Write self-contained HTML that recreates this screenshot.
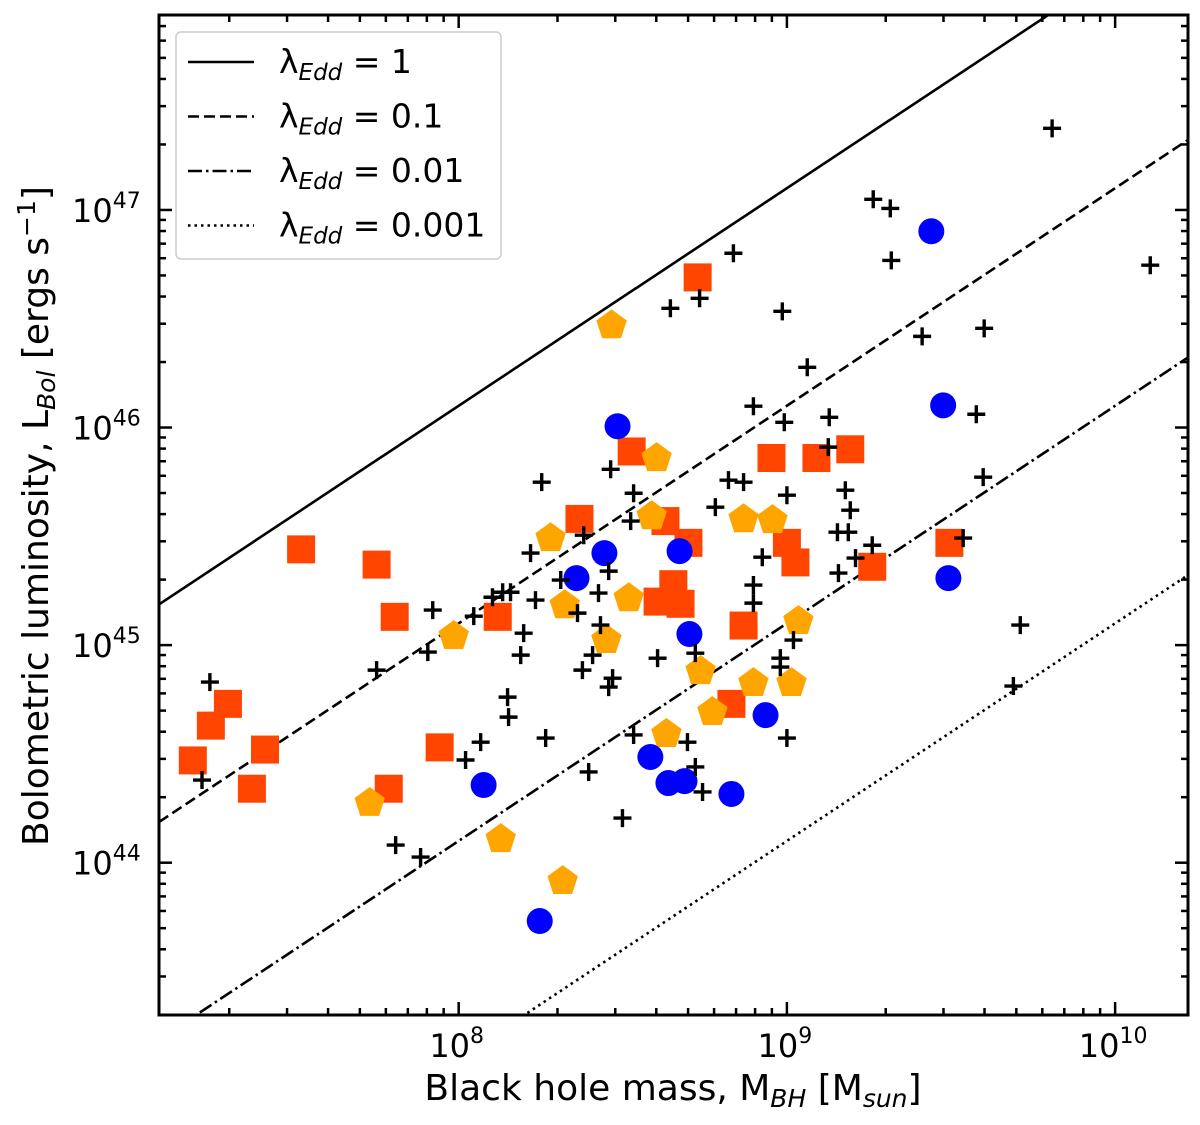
<!DOCTYPE html>
<html><head><meta charset="utf-8"><style>
html,body{margin:0;padding:0;background:#fff;overflow:hidden;width:1200px;height:1125px;}
svg{display:block;font-family:"DejaVu Sans","Liberation Sans",sans-serif;}
</style></head><body>
<svg id="chart" width="1200" height="1125" viewBox="0 0 1200 1125" xmlns="http://www.w3.org/2000/svg">
<g id="plot"></g>
</svg>
<script>
const xTickValues = [8, 9, 10];
const yTickValues = [44, 45, 46, 47];
const eddRatios = [1, 0.1, 0.01, 0.001];
const eddLabels = ["1", "0.1", "0.01", "0.001"];
const eddDashes = ["", "11,5", "14,4,2.5,4", "2.5,4"];
// log10 of M_BH and L_Bol
const squaresM = [7.19,7.245,7.297,7.41,7.37,7.52,7.75,7.805,7.787,7.942,8.119,8.368,8.527,8.63,8.70,8.654,8.606,8.676,8.728,8.868,8.831,8.953,9.0,9.026,9.09,9.193,9.26,9.495];
const squaresL = [44.47,44.63,44.73,44.52,44.34,45.44,45.37,45.13,44.34,44.53,45.13,45.58,45.89,45.57,45.47,45.28,45.20,45.19,46.69,45.09,44.73,45.86,45.47,45.38,45.86,45.90,45.36,45.47];
const circlesM = [9.44,9.476,9.492,8.484,8.444,8.673,8.359,8.703,8.935,8.076,8.247,8.584,8.639,8.688,8.831];
const circlesL = [46.902,46.102,45.308,46.006,45.423,45.432,45.308,45.051,44.678,44.357,43.732,44.486,44.366,44.375,44.316];
const pentM = [8.466,8.603,8.588,8.28,8.323,8.518,8.45,8.737,8.868,8.956,9.035,8.898,9.014,8.773,8.633,7.985,7.729,8.128,8.317];
const pentL = [46.474,45.864,45.597,45.496,45.188,45.22,45.028,44.885,45.583,45.579,45.115,44.83,44.83,44.697,44.596,45.046,44.279,44.113,43.92];
const crossM = [9.808,9.263,9.315,9.318,8.837,8.734,8.645,8.986,9.601,9.412,9.062,8.898,8.992,9.129,9.577,9.126,8.822,8.868,9.0,9.178,9.193,8.782,9.598,9.154,9.187,9.26,9.537,8.925,9.209,9.157,8.898,8.898,8.463,8.253,8.533,8.524,8.381,8.219,8.457,8.311,8.426,8.134,8.158,8.103,8.234,8.046,8.362,8.432,8.198,8.189,8.408,8.606,8.721,8.377,8.469,8.457,8.98,8.98,9.02,8.149,8.152,8.265,8.067,8.533,8.697,9.0,8.021,8.396,8.721,8.743,8.499,7.921,7.906,7.75,7.242,7.218,7.808,7.884,10.107,9.711,9.69];
const crossL = [47.375,47.049,47.007,46.768,46.801,46.594,46.548,46.534,46.456,46.419,46.277,46.098,46.024,46.047,46.061,45.91,45.758,45.749,45.689,45.712,45.62,45.634,45.772,45.519,45.519,45.459,45.492,45.404,45.40,45.331,45.276,45.193,45.808,45.749,45.698,45.57,45.505,45.423,45.34,45.299,45.239,45.243,45.243,45.22,45.207,45.133,45.147,45.092,45.055,44.954,44.954,44.94,44.963,44.885,44.848,44.807,44.94,44.899,45.023,44.761,44.669,44.573,44.554,44.587,44.554,44.573,44.472,44.417,44.44,44.325,44.205,45.161,44.968,44.885,44.83,44.38,44.081,44.026,46.746,45.092,44.812];

const NS="http://www.w3.org/2000/svg";
const L=159,R=1188,T=15,B=1015;
const xMin=7.087,xMax=10.222,yMin=43.30,yMax=47.896;
const X=v=>L+(v-xMin)/(xMax-xMin)*(R-L);
const Y=v=>B-(v-yMin)/(yMax-yMin)*(B-T);
const root=document.getElementById('plot');
function mk(tag,attrs,parent){const e=document.createElementNS(NS,tag);for(const k in attrs)e.setAttribute(k,attrs[k]);(parent||root).appendChild(e);return e;}

const defs=mk('defs',{});
const cp=mk('clipPath',{id:'clip'},defs);mk('rect',{x:L,y:T,width:R-L,height:B-T},cp);
const data=mk('g',{'clip-path':'url(#clip)'});



eddRatios.forEach((r,i)=>{
  const c=38.10+Math.log10(r);
  const ln=mk('line',{x1:X(xMin),y1:Y(c+xMin),x2:X(xMax),y2:Y(c+xMax),stroke:'#000','stroke-width':2.6,'stroke-dasharray':eddDashes[i]},data);
  
  
});
squaresM.forEach((m,i)=>{
  const s=mk('rect',{x:X(m)-14,y:Y(squaresL[i])-14,width:28,height:28,fill:'#ff4500'},data);
  
  
});
function pent(cx,cy,r){let p=[];for(let k=0;k<5;k++){const a=-Math.PI/2+k*2*Math.PI/5;p.push((cx+r*Math.cos(a)).toFixed(1)+','+(cy+r*Math.sin(a)).toFixed(1));}return p.join(' ');}
pentM.forEach((m,i)=>{
  const p=mk('polygon',{points:pent(X(m),Y(pentL[i])+1,16),fill:'#ffa500'},data);
  
  
});
circlesM.forEach((m,i)=>{
  const c=mk('circle',{cx:X(m),cy:Y(circlesL[i]),r:13,fill:'#0000ff'},data);
  
  
});
crossM.forEach((m,i)=>{
  const x=X(m),y=Y(crossL[i]);
  const c=mk('path',{d:`M${x-9},${y}H${x+9}M${x},${y-9}V${y+9}`,stroke:'#000','stroke-width':3.4,fill:'none'},data);
  
  
});

const fr=mk('rect',{x:L,y:T,width:R-L,height:B-T,fill:'none',stroke:'#000','stroke-width':3});



const tg=mk('g',{stroke:'#000','stroke-width':2.5});


for(let d=7;d<=10;d++){for(let k=1;k<10;k++){const v=d+Math.log10(k);if(v<xMin||v>xMax)continue;const len=k==1?13:7;const x=X(v);
  mk('line',{x1:x,y1:B,x2:x,y2:B-len},tg);mk('line',{x1:x,y1:T,x2:x,y2:T+len},tg);}}
for(let d=43;d<=47;d++){for(let k=1;k<10;k++){const v=d+Math.log10(k);if(v<yMin||v>yMax)continue;const len=k==1?13:7;const y=Y(v);
  mk('line',{x1:L,y1:y,x2:L+len,y2:y},tg);mk('line',{x1:R,y1:y,x2:R-len,y2:y},tg);}}
xTickValues.forEach(v=>{
  const t=mk('text',{x:X(v)-2,y:1057,'font-size':32,'text-anchor':'middle',fill:'#000'});
  
  
  t.innerHTML='10<tspan dy="-14" font-size="22">'+v+'</tspan>';
});
yTickValues.forEach(v=>{
  const t=mk('text',{x:72,y:Y(v)+12,'font-size':32,fill:'#000'});
  
  
  t.innerHTML='10<tspan dy="-14" font-size="22">'+v+'</tspan>';
});
const xt=mk('text',{x:673,y:1100,'font-size':36,'text-anchor':'middle',fill:'#000'});


xt.innerHTML='Black hole mass, M<tspan font-size="25" font-style="italic" dy="7">BH</tspan><tspan dy="-7"> [M</tspan><tspan font-size="25" font-style="italic" dy="7">sun</tspan><tspan dy="-7">]</tspan>';
const yt=mk('text',{x:0,y:0,'font-size':36,'text-anchor':'middle',fill:'#000',transform:'translate(48,516) rotate(-90)'});


yt.innerHTML='Bolometric luminosity, L<tspan font-size="25" font-style="italic" dy="7">Bol</tspan><tspan dy="-7"> [ergs s</tspan><tspan font-size="25" dy="-13">−1</tspan><tspan dy="13">]</tspan>';

const lg=mk('g',{});


mk('rect',{x:176,y:32,width:325,height:227,rx:5,fill:'#fff',stroke:'#ccc','stroke-width':1.5},lg);
eddRatios.forEach((r,i)=>{
  const y=62+i*54.5;
  const e=mk('g',{},lg);
  
  
  mk('line',{x1:188,y1:y,x2:254,y2:y,stroke:'#000','stroke-width':2.6,'stroke-dasharray':eddDashes[i]},e);
  const t=mk('text',{x:279,y:y+11,'font-size':33,fill:'#000'},e);
  t.innerHTML='λ<tspan font-size="23" font-style="italic" dy="7">Edd</tspan><tspan dy="-7"> = '+eddLabels[i]+'</tspan>';
});
</script>
</body></html>
